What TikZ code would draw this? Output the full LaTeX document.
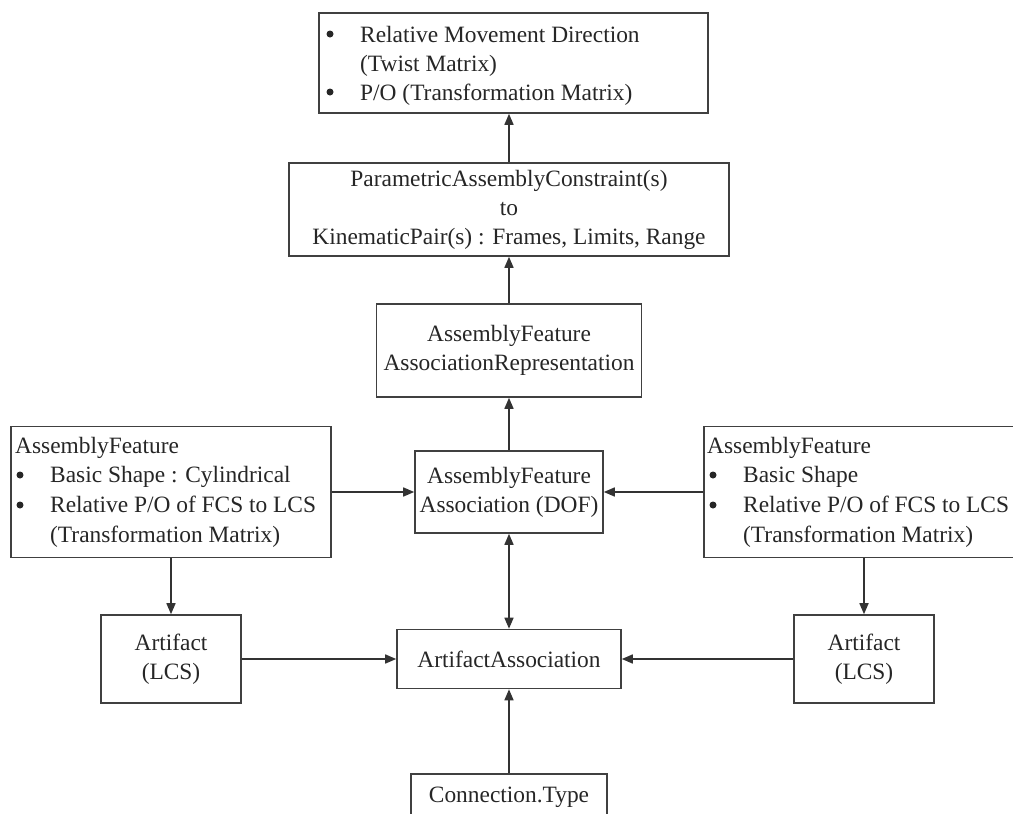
\documentclass[tikz,border=0pt]{standalone}
\usepackage{fontspec}
\setmainfont{Liberation Serif}
\usetikzlibrary{arrows.meta}
\begin{document}
\begin{tikzpicture}[x=1pt,y=-1pt,
  txtfont/.style={font=\fontsize{23.4}{29}\selectfont,text=black!85},
  box/.style={draw=black!75,line width=1.6pt,rectangle,inner sep=0pt,align=center,txtfont},
  txt/.style={inner sep=0pt,txtfont},
  dot/.style={circle,fill=black!85,minimum size=7pt,inner sep=0pt},
  tip/.tip={Triangle[length=11pt,width=9pt]},
  link/.style={draw=black!80,line width=1.6pt,-tip},
  twoway/.style={draw=black!80,line width=1.6pt,tip-tip},
]
\useasboundingbox (0,0) rectangle (1013,814);
\clip (0,0) rectangle (1013,814);
\fill[white] (0,0) rectangle (1013,814);

% boxes
\node[box,minimum width=389pt,minimum height=100pt] (goal) at (513.5,63) {};
\node[box,minimum width=440pt,minimum height=93pt] (param) at (509,209.5)
  {ParametricAssemblyConstraint(s)\\to\\KinematicPair(s) : Frames, Limits, Range};
\node[box,minimum width=265pt,minimum height=93pt] (afar) at (509,350.5)
  {AssemblyFeature\\AssociationRepresentation};
\node[box,minimum width=188pt,minimum height=82pt] (afa) at (509,492)
  {AssemblyFeature\\Association (DOF)};
\node[box,minimum width=320pt,minimum height=131pt] (afL) at (171,492) {};
\node[box,minimum width=320pt,minimum height=131pt] (afR) at (864,492) {};
\node[box,minimum width=140pt,minimum height=88pt] (artL) at (171,659) {Artifact\\(LCS)};
\node[box,minimum width=140pt,minimum height=88pt] (artR) at (864,659) {Artifact\\(LCS)};
\node[box,minimum width=224pt,minimum height=59pt] (aa) at (509,659) {ArtifactAssociation};
\node[box,minimum width=196pt,minimum height=62pt] (conn) at (509,805) {};
\node[txt,anchor=base] (conn-t) at (509,802) {Connection.Type};

% bullet text of the top box
\node[dot] (goal-b1) at (330,34) {};
\node[txt,anchor=base west] (goal-l1) at (360,42) {Relative Movement Direction};
\node[txt,anchor=base west] (goal-l2) at (360,71) {(Twist Matrix)};
\node[dot] (goal-b2) at (330,92) {};
\node[txt,anchor=base west] (goal-l3) at (360,100) {P/O (Transformation Matrix)};

% left assembly feature
\node[txt,anchor=base west] (afL-t) at (15,453) {AssemblyFeature};
\node[dot] (afL-b1) at (20,475) {};
\node[txt,anchor=base west] (afL-l1) at (50,482) {Basic Shape : Cylindrical};
\node[dot] (afL-b2) at (20,505) {};
\node[txt,anchor=base west] (afL-l2) at (50,512) {Relative P/O of FCS to LCS};
\node[txt,anchor=base west] (afL-l3) at (50,542) {(Transformation Matrix)};

% right assembly feature
\node[txt,anchor=base west] (afR-t) at (707,453) {AssemblyFeature};
\node[dot] (afR-b1) at (713,475) {};
\node[txt,anchor=base west] (afR-l1) at (743,482) {Basic Shape};
\node[dot] (afR-b2) at (713,505) {};
\node[txt,anchor=base west] (afR-l2) at (743,512) {Relative P/O of FCS to LCS};
\node[txt,anchor=base west] (afR-l3) at (743,542) {(Transformation Matrix)};

% connectors
\draw[link] (param.north) -- (param.north |- goal.south);
\draw[link] (afar.north) -- (param.south);
\draw[link] (afa.north) -- (afar.south);
\draw[link] (afL.east) -- (afa.west);
\draw[link] (afR.west) -- (afa.east);
\draw[twoway] (afa.south) -- (aa.north);
\draw[link] (afL.south) -- (artL.north);
\draw[link] (afR.south) -- (artR.north);
\draw[link] (artL.east) -- (aa.west);
\draw[link] (artR.west) -- (aa.east);
\draw[link] (conn.north) -- (aa.south);
\end{tikzpicture}
\end{document}
